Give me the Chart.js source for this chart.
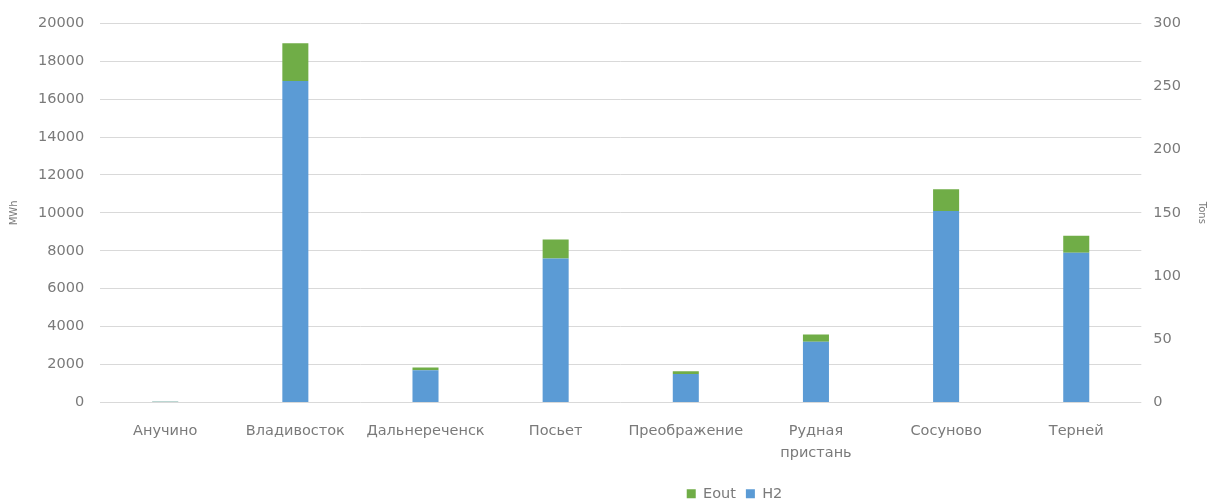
<!DOCTYPE html>
<html>
<head>
<meta charset="utf-8">
<script src="https://cdn.jsdelivr.net/npm/chart.js@4"></script>
<style>
    html, body { margin: 0; padding: 0; background: #ffffff; }
    #wrap { width: 1213px; height: 501px; }
</style>
</head>
<body>
<div id="wrap"><canvas id="chart"></canvas></div>
<script>
const sites = ['Анучино', 'Владивосток', 'Дальнереченск', 'Посьет', 'Преображение', ['Рудная', 'пристань'], 'Сосуново', 'Терней'];
const h2Values = [40, 16950, 1700, 7600, 1500, 3200, 10100, 7900];
const eoutValues = [15, 2000, 150, 1000, 150, 380, 1150, 900];
const mwhTicks = [0, 20000, 2000];
const tonsTicks = [0, 300, 50];

const textColor = '#7a7a7a';
const gridColor = '#d9d9d9';
const xFont = { family: 'DejaVu Sans', size: 14.5, lineHeight: 1.5 };
const yFont = { family: 'DejaVu Sans', size: 14.5, lineHeight: 1 };
const legendFont = { family: 'DejaVu Sans', size: 14.5, lineHeight: 1.2 };
const titleFont = { family: 'DejaVu Sans', size: 10 };

// legend sits a bit right of the middle and low, like the spreadsheet export
const legendShift = {
    id: 'legendShift',
    afterLayout(chart) {
        const lg = chart.legend;
        if (lg) {
            lg.left += 126;
            lg.right += 126;
            lg.top += 10;
            lg.bottom += 10;
        }
    }
};

new Chart(document.getElementById('chart'), {
    type: 'bar',
    data: {
        labels: sites,
        datasets: [{
            label: 'H2',
            data: h2Values,
            backgroundColor: '#5b9bd5',
            yAxisID: 'y'
        }, {
            label: 'Eout',
            data: eoutValues,
            backgroundColor: '#70ad47',
            yAxisID: 'y'
        }]
    },
    plugins: [legendShift],
    options: {
        responsive: true,
        maintainAspectRatio: false,
        animation: false,
        layout: { padding: { top: 0, left: 6, right: 2, bottom: 0 } },
        datasets: {
            bar: { categoryPercentage: 1, barPercentage: 0.2 }
        },
        plugins: {
            tooltip: { enabled: false },
            legend: {
                position: 'bottom',
                reverse: true,
                labels: {
                    color: textColor,
                    font: legendFont,
                    boxWidth: 9,
                    boxHeight: 9,
                    padding: 10
                }
            }
        },
        scales: {
            x: {
                stacked: true,
                grid: { display: false, drawTicks: false },
                border: { display: false },
                ticks: { color: textColor, font: xFont, maxRotation: 0, autoSkip: false, padding: 18 },
                afterFit: s => { s.height = 64; }
            },
            y: {
                stacked: true,
                position: 'left',
                min: mwhTicks[0],
                max: mwhTicks[1],
                grid: { color: gridColor, drawTicks: false },
                border: { display: false },
                ticks: { stepSize: mwhTicks[2], color: textColor, font: yFont, padding: 16, callback: v => String(v) },
                title: { display: true, text: 'MWh', color: textColor, font: titleFont, padding: 2 }
            },
            y1: {
                position: 'right',
                min: tonsTicks[0],
                max: tonsTicks[1],
                grid: { display: false, drawTicks: false },
                border: { display: false },
                ticks: { stepSize: tonsTicks[2], color: textColor, font: yFont, padding: 12, callback: v => String(v) },
                title: { display: true, text: 'Tons', color: textColor, font: titleFont, padding: 3 }
            }
        }
    }
});
</script>
</body>
</html>
